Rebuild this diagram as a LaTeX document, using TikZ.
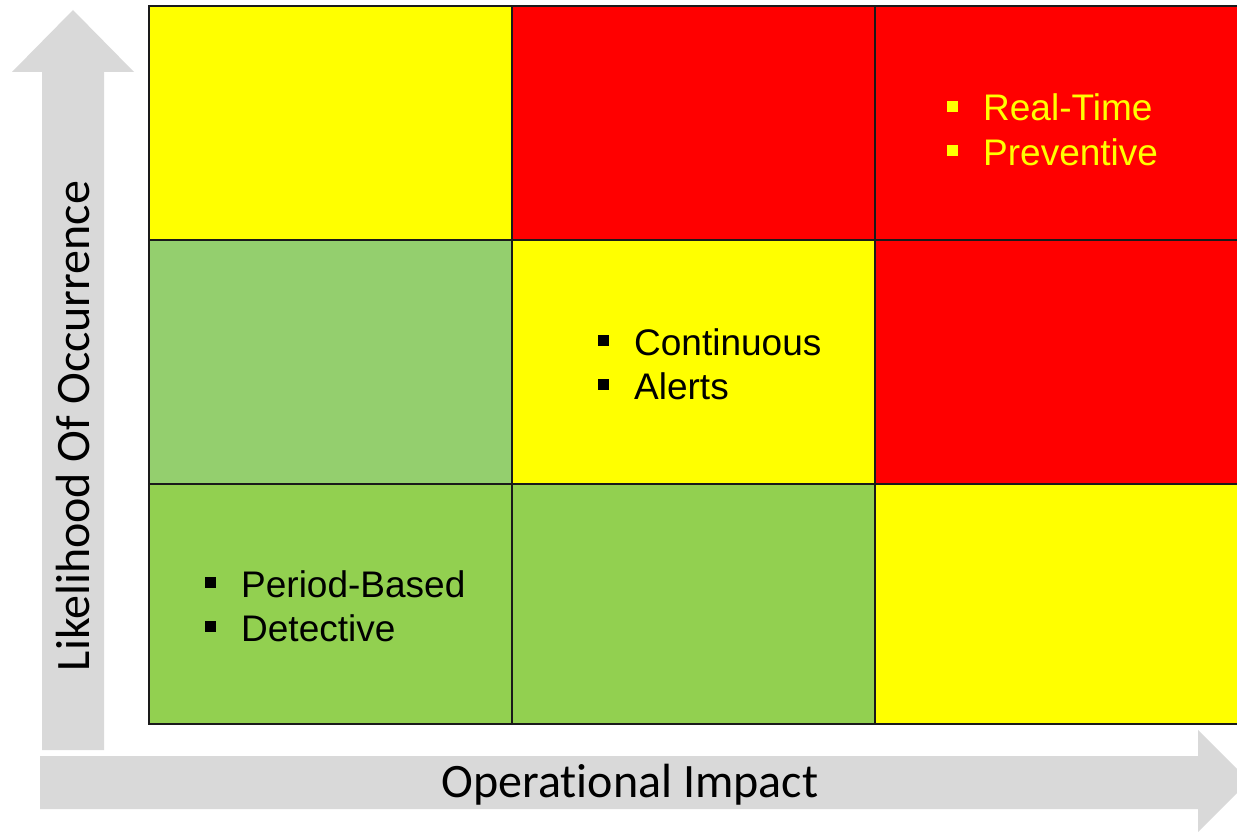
\documentclass[tikz,border=0pt]{standalone}
\usepackage{fontspec}
\setmainfont{Liberation Sans}
\newfontfamily\axisfont[Ligatures=NoCommon]{Carlito}
\definecolor{arrowgray}{HTML}{D9D9D9}
\definecolor{cellyellow}{HTML}{FFFF00}
\definecolor{cellred}{HTML}{FF0000}
\definecolor{cellgreen}{HTML}{92D050}
\definecolor{cellsage}{RGB}{148,207,110}
\definecolor{gridline}{HTML}{1A1A1A}
\begin{document}
\begin{tikzpicture}[x=1pt,y=-1pt,
  cell/.style={draw=gridline, line width=1.2pt},
  axisarrow/.style={fill=arrowgray, draw=none},
  axislabel/.style={font=\axisfont\fontsize{48}{56}\selectfont, text=black, inner sep=0pt},
  item/.style={font=\fontsize{37}{44}\selectfont, anchor=base west, inner sep=0pt},
  bullet/.style={minimum size=11pt, inner sep=0pt, anchor=south west}
]
\useasboundingbox (0,0) rectangle (1237,832);
\clip (0,0) rectangle (1237,832);
\fill[white] (0,0) rectangle (1237,832);

% axis arrows
\fill[axisarrow] (42,750) -- (42,72) -- (12,72) -- (73,10) -- (134,72) -- (104,72) -- (104,750) -- cycle;
\fill[axisarrow] (40,756) -- (1198,756) -- (1198,730) -- (1249,781) -- (1198,832) -- (1198,809) -- (40,809) -- cycle;

% 3x3 grid of cells
\filldraw[cell, fill=cellyellow] (149,6)   rectangle (512,240);
\filldraw[cell, fill=cellred]    (512,6)   rectangle (875,240);
\filldraw[cell, fill=cellred]    (875,6)   rectangle (1238,240);
\filldraw[cell, fill=cellsage]   (149,240) rectangle (512,484);
\filldraw[cell, fill=cellyellow] (512,240) rectangle (875,484);
\filldraw[cell, fill=cellred]    (875,240) rectangle (1238,484);
\filldraw[cell, fill=cellgreen]  (149,484) rectangle (512,724);
\filldraw[cell, fill=cellgreen]  (512,484) rectangle (875,724);
\filldraw[cell, fill=cellyellow] (875,484) rectangle (1238,724);

% axis labels
\node[axislabel, anchor=base] (ximpact) at (630,797) {Operational Impact};
\node[axislabel, anchor=base, rotate=90] (ylikely) at (89,426) {Likelihood Of Occurrence};

% high corner
\node[bullet, fill=cellyellow] (b1) at (947,112) {};
\node[item, text=cellyellow] (t1) at (983,121) {Real-Time};
\node[bullet, fill=cellyellow] (b2) at (947,156) {};
\node[item, text=cellyellow] (t2) at (983,165) {Preventive};

% centre
\node[bullet, fill=black] (b3) at (598,346) {};
\node[item] (t3) at (634,355) {Continuous};
\node[bullet, fill=black] (b4) at (598,390) {};
\node[item] (t4) at (634,399) {Alerts};

% low corner
\node[bullet, fill=black] (b5) at (205,588) {};
\node[item] (t5) at (241,597) {Period-Based};
\node[bullet, fill=black] (b6) at (205,632) {};
\node[item] (t6) at (241,641) {Detective};
\end{tikzpicture}
\end{document}
